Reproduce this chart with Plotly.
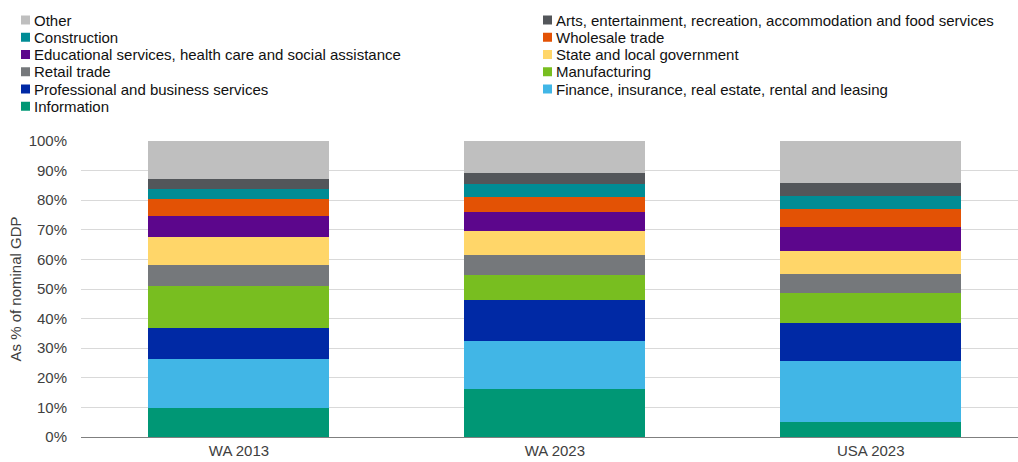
import plotly.graph_objects as go

categories = ["WA 2013", "WA 2023", "USA 2023"]

# series in stacking order (bottom to top)
series_names = [
    "Information",
    "Finance, insurance, real estate, rental and leasing",
    "Professional and business services",
    "Manufacturing",
    "Retail trade",
    "State and local government",
    "Educational services, health care and social assistance",
    "Wholesale trade",
    "Construction",
    "Arts, entertainment, recreation, accommodation and food services",
    "Other",
]
information = [9.7, 16.3, 5.2]
finance = [16.5, 16.1, 20.5]
professional = [10.6, 13.9, 12.8]
manufacturing = [14.2, 8.5, 10.1]
retail = [7.0, 6.8, 6.4]
state_local = [9.7, 8.1, 7.7]
educational = [7.1, 6.4, 8.3]
wholesale = [5.5, 4.9, 5.9]
construction = [3.5, 4.4, 4.4]
arts = [3.4, 3.8, 4.5]
other = [12.8, 10.8, 14.2]

series_values = [information, finance, professional, manufacturing, retail,
                 state_local, educational, wholesale, construction, arts, other]
series_colors = ["#009775", "#41B6E6", "#0029A5", "#78BE20", "#75787B",
                 "#FFD669", "#5C068C", "#E35205", "#008C95", "#53565A", "#BFBFBF"]

y_ticks = [0, 10, 20, 30, 40, 50, 60, 70, 80, 90, 100]
y_tick_labels = [f"{t}%" for t in y_ticks]

# legend order (row-major, two columns)
legend_order = ["Other", "Arts, entertainment, recreation, accommodation and food services",
                "Construction", "Wholesale trade",
                "Educational services, health care and social assistance", "State and local government",
                "Retail trade", "Manufacturing",
                "Professional and business services", "Finance, insurance, real estate, rental and leasing",
                "Information"]

W, H = 1018, 462
ML, MR, MT, MB = 81, 0, 141, 25
PW, PH = W - ML - MR, H - MT - MB

fig = go.Figure()
for name, vals, col in zip(series_names, series_values, series_colors):
    fig.add_trace(go.Bar(x=categories, y=vals, name=name, marker_color=col,
                         marker_line_width=0, showlegend=False))

# manual legend
def px_to_paper(px, py):
    return (px - ML) / PW, (MT + PH - py) / PH

color_of = dict(zip(series_names, series_colors))
col_x = [21, 543]
row_y0, row_dy = 20, 17.25
for i, name in enumerate(legend_order):
    r, c = divmod(i, 2)
    cy = row_y0 + r * row_dy
    x0, y0 = px_to_paper(col_x[c], cy + 4.5)
    x1, y1 = px_to_paper(col_x[c] + 9, cy - 4.5)
    fig.add_shape(type="rect", xref="paper", yref="paper", x0=x0, x1=x1, y0=y0, y1=y1,
                  fillcolor=color_of[name], line_width=0)
    tx, ty = px_to_paper(col_x[c] + 11, cy)
    fig.add_annotation(xref="paper", yref="paper", x=tx, y=ty, text=name, showarrow=False,
                       xanchor="left", yanchor="middle",
                       font=dict(family="Liberation Sans, Arial", size=15, color="#111111"))

fig.update_layout(
    width=W, height=H,
    margin=dict(l=ML, r=MR, t=MT, b=MB),
    barmode="stack",
    bargap=0.427,
    plot_bgcolor="white", paper_bgcolor="white",
    font=dict(family="Liberation Sans, Arial", size=15, color="#404040"),
)
fig.update_xaxes(range=[-0.5, 2.466], showgrid=False, showline=True, linecolor="#7f7f7f",
                 linewidth=1, ticks="", tickfont=dict(size=15, color="#404040"))
fig.update_yaxes(range=[0, 100], tickvals=y_ticks, ticktext=y_tick_labels,
                 showgrid=True, gridcolor="#D9D9D9", gridwidth=1, zeroline=False,
                 ticks="", ticklabelstandoff=13, tickfont=dict(size=15, color="#404040"),
                 title=dict(text="As % of nominal GDP", font=dict(size=15, color="#404040"),
                            standoff=3))

fig.write_html("out.html")
